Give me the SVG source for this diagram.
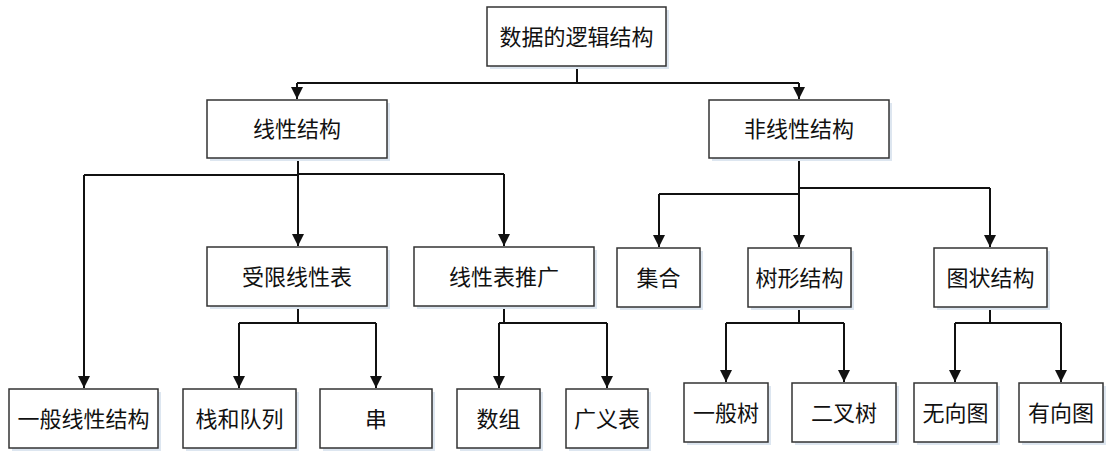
<svg xmlns="http://www.w3.org/2000/svg" width="1109" height="454" viewBox="0 0 1109 454">
<style>
.box{fill:#fff;stroke:#333;stroke-width:1.5}
.sh{fill:#dde6f0}
.t{font-family:"Noto Sans CJK SC","Microsoft YaHei",sans-serif;font-size:22px;fill:#111;text-anchor:middle}
.c{fill:none;stroke:#111;stroke-width:2}
</style>
<defs>
<marker id="a" markerUnits="userSpaceOnUse" markerWidth="14" markerHeight="14" refX="12" refY="7" orient="auto">
<path d="M0,1 L12,7 L0,13 z" fill="#111"/>
</marker>
</defs>
<rect width="1109" height="454" fill="#fff"/>
<g id="connectors">
<path class="c" d="M577,66 V83 M297,83 H799"/>
<path class="c" d="M297,83 V99" marker-end="url(#a)"/>
<path class="c" d="M799,83 V99" marker-end="url(#a)"/>
<path class="c" d="M298,158 V175 M84,175 H298 M298,174 H504"/>
<path class="c" d="M84,175 V388" marker-end="url(#a)"/>
<path class="c" d="M298,175 V246" marker-end="url(#a)"/>
<path class="c" d="M504,174 V246" marker-end="url(#a)"/>
<path class="c" d="M799,158 V194 M659,194 H799 M799,188 H990"/>
<path class="c" d="M799,188 V247" marker-end="url(#a)"/>
<path class="c" d="M659,194 V247" marker-end="url(#a)"/>
<path class="c" d="M990,188 V247" marker-end="url(#a)"/>
<path class="c" d="M298,306 V323 M239,323 H376"/>
<path class="c" d="M239,323 V388" marker-end="url(#a)"/>
<path class="c" d="M376,323 V388" marker-end="url(#a)"/>
<path class="c" d="M504,306 V323 M499,323 H607"/>
<path class="c" d="M499,323 V388" marker-end="url(#a)"/>
<path class="c" d="M607,323 V388" marker-end="url(#a)"/>
<path class="c" d="M799,307 V323 M726,323 H844"/>
<path class="c" d="M726,323 V382" marker-end="url(#a)"/>
<path class="c" d="M844,323 V382" marker-end="url(#a)"/>
<path class="c" d="M990,307 V323 M955,323 H1061"/>
<path class="c" d="M955,323 V382" marker-end="url(#a)"/>
<path class="c" d="M1061,323 V382" marker-end="url(#a)"/>
</g>
<g id="root"><rect class="sh" x="490" y="10" width="179" height="59"/><rect class="box" x="487" y="7" width="179" height="59"/><text class="t" x="576.5" y="44.5">数据的逻辑结构</text></g>
<g id="linear"><rect class="sh" x="210" y="103" width="180" height="58"/><rect class="box" x="207" y="100" width="180" height="58"/><text class="t" x="297" y="137">线性结构</text></g>
<g id="nonlinear"><rect class="sh" x="712" y="103" width="180" height="58"/><rect class="box" x="709" y="100" width="180" height="58"/><text class="t" x="799" y="137">非线性结构</text></g>
<g id="general-linear"><rect class="sh" x="12" y="392" width="149" height="59"/><rect class="box" x="9" y="389" width="149" height="59"/><text class="t" x="83.5" y="426.5">一般线性结构</text></g>
<g id="restricted"><rect class="sh" x="210" y="250" width="180" height="59"/><rect class="box" x="207" y="247" width="180" height="59"/><text class="t" x="297" y="284.5">受限线性表</text></g>
<g id="generalized"><rect class="sh" x="417" y="250" width="180" height="59"/><rect class="box" x="414" y="247" width="180" height="59"/><text class="t" x="504" y="284.5">线性表推广</text></g>
<g id="set"><rect class="sh" x="620" y="251" width="83" height="59"/><rect class="box" x="617" y="248" width="83" height="59"/><text class="t" x="658.5" y="285.5">集合</text></g>
<g id="tree"><rect class="sh" x="751" y="251" width="103" height="59"/><rect class="box" x="748" y="248" width="103" height="59"/><text class="t" x="799.5" y="285.5">树形结构</text></g>
<g id="graph"><rect class="sh" x="937" y="251" width="113" height="59"/><rect class="box" x="934" y="248" width="113" height="59"/><text class="t" x="990.5" y="285.5">图状结构</text></g>
<g id="stack-queue"><rect class="sh" x="186" y="392" width="113" height="59"/><rect class="box" x="183" y="389" width="113" height="59"/><text class="t" x="239.5" y="426.5">栈和队列</text></g>
<g id="string"><rect class="sh" x="323" y="392" width="112" height="59"/><rect class="box" x="320" y="389" width="112" height="59"/><text class="t" x="376" y="426.5">串</text></g>
<g id="array"><rect class="sh" x="460" y="392" width="83" height="59"/><rect class="box" x="457" y="389" width="83" height="59"/><text class="t" x="498.5" y="426.5">数组</text></g>
<g id="glist"><rect class="sh" x="569" y="392" width="82" height="59"/><rect class="box" x="566" y="389" width="82" height="59"/><text class="t" x="607" y="426.5">广义表</text></g>
<g id="general-tree"><rect class="sh" x="687" y="386" width="84" height="59"/><rect class="box" x="684" y="383" width="84" height="59"/><text class="t" x="726" y="420.5">一般树</text></g>
<g id="binary-tree"><rect class="sh" x="795" y="386" width="104" height="59"/><rect class="box" x="792" y="383" width="104" height="59"/><text class="t" x="844" y="420.5">二叉树</text></g>
<g id="undirected"><rect class="sh" x="917" y="386" width="83" height="59"/><rect class="box" x="914" y="383" width="83" height="59"/><text class="t" x="955.5" y="420.5">无向图</text></g>
<g id="directed"><rect class="sh" x="1022" y="386" width="84" height="59"/><rect class="box" x="1019" y="383" width="84" height="59"/><text class="t" x="1061" y="420.5">有向图</text></g>
</svg>
